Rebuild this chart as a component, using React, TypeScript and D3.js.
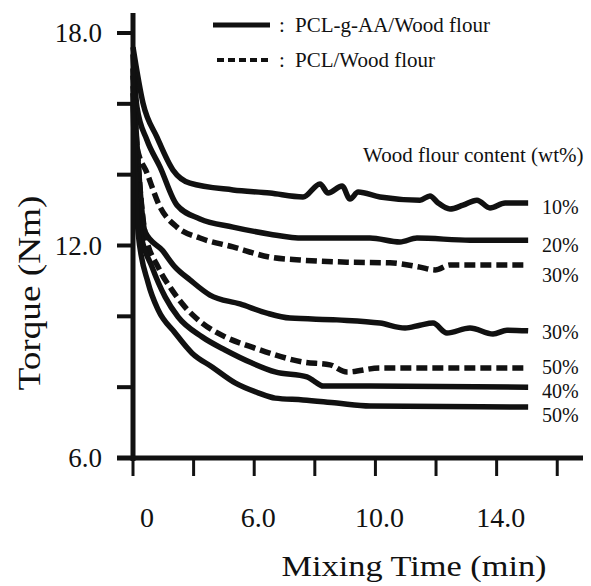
import React from "react";
import * as d3 from "d3";

const W = 591;
const H = 586;

// Mixing time (min) and torque (Nm) for each curve
const seriesNames = ["10%", "20%", "30%", "30%", "50%", "40%", "50%"];
const seriesGroup = ["PCL-g-AA", "PCL-g-AA", "PCL", "PCL-g-AA", "PCL", "PCL-g-AA", "PCL-g-AA"];

const t10 = [2, 2.33, 2.79, 3.32, 3.88, 5.3, 6.52, 7.61, 8.17, 8.44, 8.9, 9.16, 9.43, 10.15, 11.47, 11.8, 12.07, 12.46, 12.89, 13.35, 13.78, 14.28, 15.04];
const v10 = [17.6, 16.02, 15.06, 14.13, 13.76, 13.57, 13.48, 13.37, 13.74, 13.48, 13.68, 13.31, 13.51, 13.37, 13.28, 13.4, 13.2, 13.03, 13.14, 13.28, 13.06, 13.2, 13.2];

const t20 = [2, 2.13, 2.46, 2.89, 3.45, 4.21, 5.3, 6.52, 7.61, 9.82, 10.81, 11.37, 13.12, 15.04];
const v20 = [17.4, 15.91, 14.98, 14.22, 13.14, 12.75, 12.52, 12.32, 12.21, 12.21, 12.1, 12.21, 12.15, 12.15];

const t30p = [2, 2.13, 2.46, 2.89, 3.45, 4.21, 5.3, 6.52, 7.51, 9.06, 10.48, 11.47, 11.97, 12.46, 15.04];
const v30p = [17.0, 14.78, 14.05, 13.09, 12.52, 12.21, 11.96, 11.67, 11.59, 11.53, 11.51, 11.39, 11.31, 11.45, 11.45];

const t30 = [2, 2.4, 2.96, 3.39, 3.88, 4.54, 5.53, 6.42, 7.18, 8.73, 10.15, 10.98, 11.47, 11.9, 12.36, 13.12, 13.88, 14.34, 15.04];
const v30 = [16.8, 12.38, 11.87, 11.39, 11.03, 10.6, 10.35, 10.09, 9.95, 9.9, 9.81, 9.67, 9.75, 9.81, 9.53, 9.67, 9.5, 9.61, 9.59];

const t50p = [2, 2.4, 2.83, 3.29, 3.72, 4.28, 5.04, 5.93, 6.69, 7.61, 8.5, 9.06, 10.15, 15.04];
const v50p = [16.5, 12.35, 11.39, 10.74, 10.26, 9.81, 9.42, 9.13, 8.91, 8.71, 8.63, 8.43, 8.54, 8.54];

const t40 = [2, 2.23, 2.63, 3.06, 3.49, 4.28, 5.04, 5.93, 6.69, 7.74, 8.01, 8.27, 9.82, 15.04];
const v40 = [16.3, 12.44, 11.39, 10.55, 9.98, 9.42, 9.05, 8.68, 8.43, 8.29, 8.15, 8.03, 8.03, 8.0];

const t50 = [2, 2.17, 2.5, 2.83, 3.39, 3.95, 4.61, 5.37, 6.13, 6.69, 7.61, 8.73, 9.82, 15.04];
const v50 = [16.0, 12.35, 10.94, 10.18, 9.53, 8.96, 8.57, 8.12, 7.84, 7.69, 7.64, 7.55, 7.47, 7.44];

const seriesTimes = [t10, t20, t30p, t30, t50p, t40, t50];
const seriesValues = [v10, v20, v30p, v30, v50p, v40, v50];
// torque level at which each curve's end label sits
const labelValues = [13.09, 12.01, 11.17, 9.56, 8.57, 7.9, 7.22];

const yTicks = [6, 8, 10, 12, 14, 16, 18];
const yTickLabels: Record<number, string> = { 6: "6.0", 12: "12.0", 18: "18.0" };
const xTicks = [2, 4, 6, 8, 10, 12, 14, 16];
const xTickLabels: Record<number, string> = { 2: "0", 6: "6.0", 10: "10.0", 14: "14.0" };

const legendNames = ["PCL-g-AA/Wood flour", "PCL/Wood flour"];
const legendGroups = ["PCL-g-AA", "PCL"];

const FONT = "'Liberation Serif', 'Times New Roman', Times, serif";
const INK = "#111";

export default function App() {
  const x = d3.scaleLinear().domain([2, 16.85]).range([133, 583]);
  const y = d3.scaleLinear().domain([6, 18]).range([458, 33]);
  const line = d3
    .line<[number, number]>()
    .x((d) => x(d[0]))
    .y((d) => y(d[1]))
    .curve(d3.curveMonotoneX);

  return (
    <svg
      width={W}
      height={H}
      style={{ position: "absolute", left: 0, top: 0, background: "#fff" }}
    >
      <rect width={W} height={H} fill="#fff" />
      {/* curves */}
      {seriesTimes.map((ts, i) => {
        const pts = ts.map((t, j) => [t, seriesValues[i][j]] as [number, number]);
        const dashed = seriesGroup[i] === "PCL";
        return (
          <path
            key={i}
            d={line(pts) || ""}
            fill="none"
            stroke={INK}
            strokeWidth={5.5}
            strokeDasharray={dashed ? "11 5" : undefined}
            strokeLinejoin="round"
          />
        );
      })}
      {/* end labels */}
      {seriesNames.map((n, i) => (
        <text
          key={i}
          x={542}
          y={y(labelValues[i])}
          dy="0.35em"
          fontFamily={FONT}
          fontSize={20}
          fill={INK}
        >
          {n}
        </text>
      ))}
      <text x={363} y={155} dy="0.35em" fontFamily={FONT} fontSize={21} fill={INK}>
        Wood flour content (wt%)
      </text>

      {/* y axis */}
      <line x1={133} x2={133} y1={13} y2={461} stroke={INK} strokeWidth={5} />
      {yTicks.map((v) => (
        <g key={v}>
          <line x1={117} x2={133} y1={y(v)} y2={y(v)} stroke={INK} strokeWidth={4} />
          {yTickLabels[v] && (
            <text
              x={102}
              y={y(v)}
              dy="0.35em"
              textAnchor="end"
              fontFamily={FONT}
              fontSize={27}
              fill={INK}
            >
              {yTickLabels[v]}
            </text>
          )}
        </g>
      ))}
      {/* x axis */}
      <line x1={117} x2={583} y1={458} y2={458} stroke={INK} strokeWidth={5} />
      {xTicks.map((t) => (
        <g key={t}>
          <line x1={x(t)} x2={x(t)} y1={458} y2={476} stroke={INK} strokeWidth={3} />
          {xTickLabels[t] && (
            <text
              x={x(t) + (t === 2 ? 14 : 4)}
              y={527}
              textAnchor="middle"
              fontFamily={FONT}
              fontSize={28}
              fill={INK}
            >
              {xTickLabels[t]}
            </text>
          )}
        </g>
      ))}
      {/* axis titles */}
      <text
        x={414}
        y={576}
        textAnchor="middle"
        fontFamily={FONT}
        fontSize={30}
        textLength={265}
        lengthAdjust="spacingAndGlyphs"
        fill={INK}
      >
        Mixing Time (min)
      </text>
      <text
        transform="translate(40,293) rotate(-90)"
        textAnchor="middle"
        fontFamily={FONT}
        fontSize={32}
        textLength={195}
        lengthAdjust="spacingAndGlyphs"
        fill={INK}
      >
        Torque (Nm)
      </text>

      {/* legend */}
      {legendNames.map((n, i) => {
        const ly = 25 + i * 35;
        const dashed = legendGroups[i] === "PCL";
        return (
          <g key={n}>
            <line
              x1={dashed ? 217 : 213}
              x2={270}
              y1={ly}
              y2={ly}
              stroke={INK}
              strokeWidth={dashed ? 4 : 5}
              strokeDasharray={dashed ? "7 4" : undefined}
            />
            <text x={279} y={ly} dy="0.35em" fontFamily={FONT} fontSize={21} fill={INK}>
              :
            </text>
            <text x={295} y={ly} dy="0.35em" fontFamily={FONT} fontSize={21} fill={INK}>
              {n}
            </text>
          </g>
        );
      })}
    </svg>
  );
}
